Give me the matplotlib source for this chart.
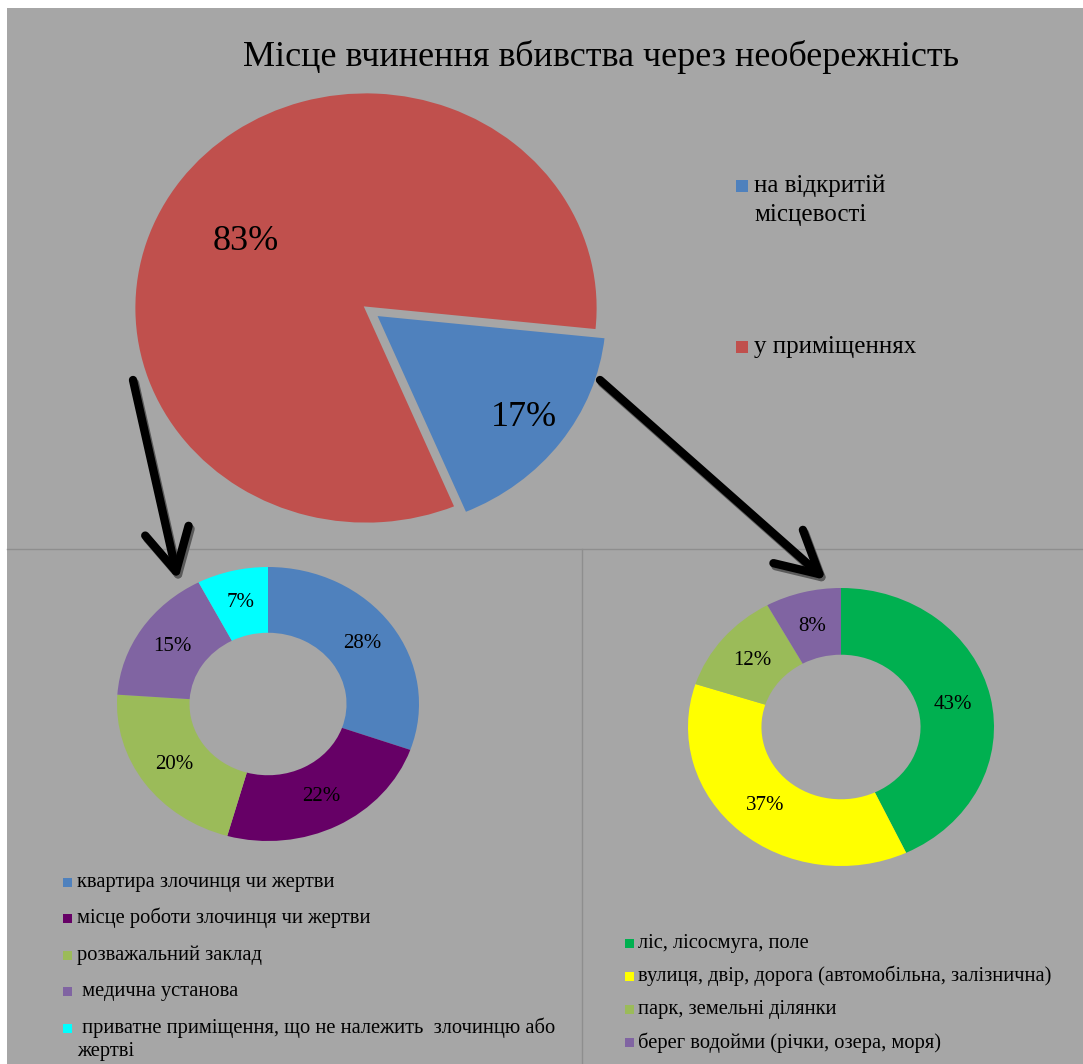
import matplotlib.pyplot as plt
from matplotlib.patches import Rectangle, FancyArrowPatch

# canvas size in pixels
W, H = 1083, 1064
BG = '#A6A6A6'

# --- data ---
title = "Місце вчинення вбивства через необережність"

main_labels = ["на відкритій\nмісцевості", "у приміщеннях"]
main_values = [17, 83]
main_colors = ['#4F81BD', '#C0504D']

indoor_labels = ["квартира злочинця чи жертви",
                 "місце роботи злочинця чи жертви",
                 "розважальний заклад",
                 " медична установа",
                 " приватне приміщення, що не належить  злочинцю або\nжертві"]
indoor_values = [28, 22, 20, 15, 7]
indoor_colors = ['#4F81BD', '#660066', '#9BBB59', '#8064A2', '#00FFFF']

outdoor_labels = ["ліс, лісосмуга, поле",
                  "вулиця, двір, дорога (автомобільна, залізнична)",
                  "парк, земельні ділянки",
                  "берег водойми (річки, озера, моря)"]
outdoor_values = [43, 37, 12, 8]
outdoor_colors = ['#00B050', '#FFFF00', '#9BBB59', '#8064A2']

plt.rcParams['font.family'] = ['Liberation Serif', 'DejaVu Serif']

fig = plt.figure(figsize=(W / 100, H / 100), dpi=100)
fig.patch.set_facecolor('white')

# background layer in pixel coordinates (y down)
base = fig.add_axes([0, 0, 1, 1], zorder=0)
base.set_xlim(0, W)
base.set_ylim(H, 0)
base.axis('off')
base.add_patch(Rectangle((7, 8), W - 7, H - 8, facecolor=BG, edgecolor='none'))
base.plot([7, W], [549, 549], color='#8E8E8E', lw=1)
base.plot([582, 582], [549, H], color='#8E8E8E', lw=1)

# overlay layer for text, legends and arrows
over = fig.add_axes([0, 0, 1, 1], zorder=10)
over.set_xlim(0, W)
over.set_ylim(H, 0)
over.axis('off')
over.patch.set_alpha(0)


def pie_axes(cx, cy, rx, ry, pad=1.15):
    # axes whose unit circle maps to an ellipse rx x ry pixels at (cx, cy)
    w, h = 2 * pad * rx, 2 * pad * ry
    ax = fig.add_axes([(cx - w / 2) / W, 1 - (cy + h / 2) / H, w / W, h / H], zorder=2)
    ax.patch.set_alpha(0)
    return ax, pad


def finish(ax, pad):
    ax.set_aspect('auto')
    ax.set_xlim(-pad, pad)
    ax.set_ylim(-pad, pad)
    ax.axis('off')


def draw_legend(labels, colors, x, y0, step, size, fs, gap=4, lead=1.15):
    fpx = fs * 100 / 72
    for i, (lab, col) in enumerate(zip(labels, colors)):
        y = y0 + i * step
        over.add_patch(Rectangle((x, y - size / 2), size, size, facecolor=col, edgecolor='none'))
        for k, line in enumerate(lab.split('\n')):
            over.text(x + size + gap, y + 0.23 * fpx + k * lead * fpx, line,
                      fontsize=fs, va='baseline', ha='left')


# title
over.text(601, 57, title, fontsize=26, ha='center', va='center')

# --- main pie ---
ax, pad = pie_axes(366, 308, 232, 216)
wedges, texts, autotexts = ax.pie(main_values, colors=main_colors, startangle=-6,
                                  counterclock=False, explode=[0.05, 0],
                                  autopct='%1.0f%%', pctdistance=0.8,
                                  wedgeprops=dict(edgecolor=BG, linewidth=2),
                                  textprops=dict(fontsize=26))
autotexts[1].set_position((-0.52, 0.31))
finish(ax, pad)
draw_legend(main_labels, main_colors, 736, 186, 161, 12, 18, gap=6)

# --- indoor donut ---
ax, pad = pie_axes(268, 704, 151, 137)
wedges, texts = ax.pie(indoor_values, colors=indoor_colors, startangle=90, counterclock=False,
                       labels=[f"{v}%" for v in indoor_values], labeldistance=0.76,
                       wedgeprops=dict(width=0.48, linewidth=0),
                       textprops=dict(fontsize=15))
for t in texts:
    t.set_ha('center')
    t.set_va('center')
finish(ax, pad)
draw_legend(indoor_labels, indoor_colors, 63, 882, 36.5, 9, 14.8, gap=5)

# --- outdoor donut ---
ax, pad = pie_axes(841, 727, 153, 139)
wedges, texts = ax.pie(outdoor_values, colors=outdoor_colors, startangle=90, counterclock=False,
                       labels=[f"{v}%" for v in outdoor_values], labeldistance=0.75,
                       wedgeprops=dict(width=0.48, linewidth=0),
                       textprops=dict(fontsize=15))
for t in texts:
    t.set_ha('center')
    t.set_va('center')
finish(ax, pad)
draw_legend(outdoor_labels, outdoor_colors, 625, 943, 33.3, 9, 14.8)

# arrows with a soft shadow
arrows = [((133, 380), (178, 580)), ((600, 380), (826, 580))]
style = '->,head_length=1.5,head_width=0.8'
for (x0, y0), (x1, y1) in arrows:
    sh = FancyArrowPatch((x0 + 2, y0 + 3), (x1 + 2, y1 + 3), arrowstyle=style, mutation_scale=20,
                         color='#5A5A5A', lw=6, capstyle='round', joinstyle='round',
                         shrinkA=0, shrinkB=0)
    ar = FancyArrowPatch((x0, y0), (x1, y1), arrowstyle=style, mutation_scale=20,
                         color='black', lw=6, capstyle='round', joinstyle='round',
                         shrinkA=0, shrinkB=0)
    over.add_patch(sh)
    over.add_patch(ar)

fig.savefig('out.png', dpi=100, facecolor=fig.get_facecolor())
